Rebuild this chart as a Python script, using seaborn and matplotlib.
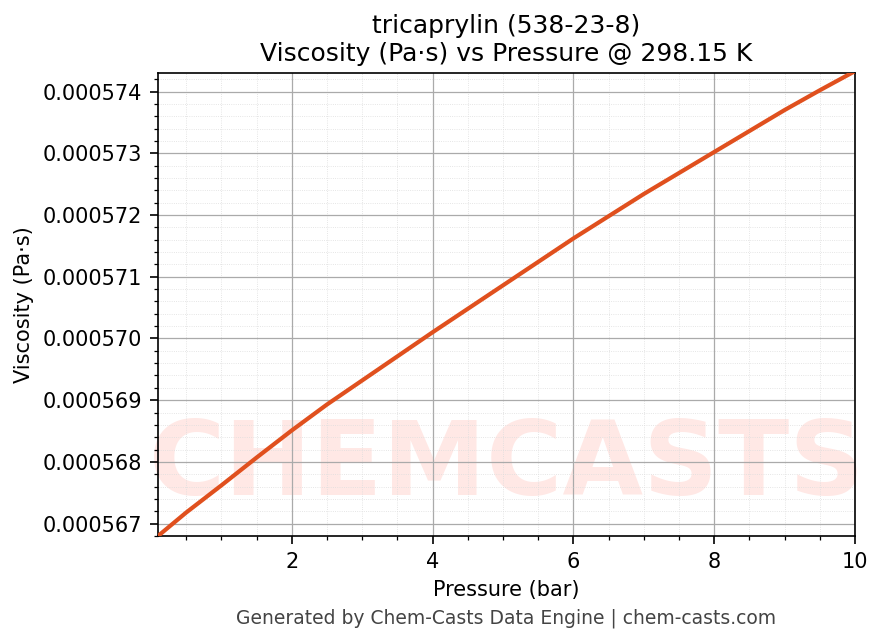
import matplotlib
matplotlib.use("Agg")
import matplotlib.pyplot as plt
import seaborn as sns
from matplotlib.ticker import AutoMinorLocator

pressure = [0.1, 0.5, 1.0, 1.5, 2.0, 2.5, 3.0, 3.5, 4.0, 4.5, 5.0, 5.5, 6.0, 6.5,
            7.0, 7.5, 8.0, 8.5, 9.0, 9.5, 10.0]
viscosity = [0.00056680, 0.00056718, 0.00056762, 0.00056807, 0.00056851, 0.00056893,
             0.00056932, 0.00056971, 0.00057010, 0.00057048, 0.00057086, 0.00057124,
             0.00057162, 0.00057198, 0.00057234, 0.00057268, 0.00057302, 0.00057336,
             0.00057370, 0.00057402, 0.00057433]

sns.set_style("white")
plt.rcParams.update({"text.color": "black", "axes.labelcolor": "black",
                     "xtick.color": "black", "ytick.color": "black"})
fig = plt.figure(figsize=(883/150, 644/150), dpi=150)
ax = fig.add_axes([158/883, 1-536/644, (855-158)/883, (536-73)/644])

ax.text(0.5, 0.15, "CHEMCASTS", transform=ax.transAxes, ha="center", va="center",
        fontsize=50, fontweight="bold", color="#ffe8e5", zorder=0)
sns.lineplot(x=pressure, y=viscosity, ax=ax, color="#e0501e", linewidth=2, zorder=3)

ax.set_xlim(0.1, 10)
ax.set_ylim(0.0005668, 0.0005743)
ax.set_xticks([2, 4, 6, 8, 10])
ax.set_yticks([0.000567 + i*1e-6 for i in range(8)])
ax.set_yticklabels([f"{0.000567 + i*1e-6:.6f}" for i in range(8)])
ax.xaxis.set_minor_locator(AutoMinorLocator(4))
ax.yaxis.set_minor_locator(AutoMinorLocator(5))
ax.grid(which="major", color="#aaaaaa", linewidth=0.6)
ax.grid(which="minor", color="#dddddd", linewidth=0.4, linestyle=":")
ax.tick_params(which="both", direction="out", left=True, bottom=True, labelsize=10)
ax.tick_params(which="major", length=4)
ax.tick_params(which="minor", length=2)
for s in ax.spines.values():
    s.set_color("black")
ax.set_xlabel("Pressure (bar)", fontsize=10)
ax.set_ylabel("Viscosity (Pa·s)", fontsize=10)
ax.set_title("tricaprylin (538-23-8)\nViscosity (Pa·s) vs Pressure @ 298.15 K", fontsize=12)
fig.text(506/883, 1-618/644, "Generated by Chem-Casts Data Engine | chem-casts.com",
         ha="center", va="center", fontsize=9, color="#444444")
fig.savefig("out.png", dpi=150)
